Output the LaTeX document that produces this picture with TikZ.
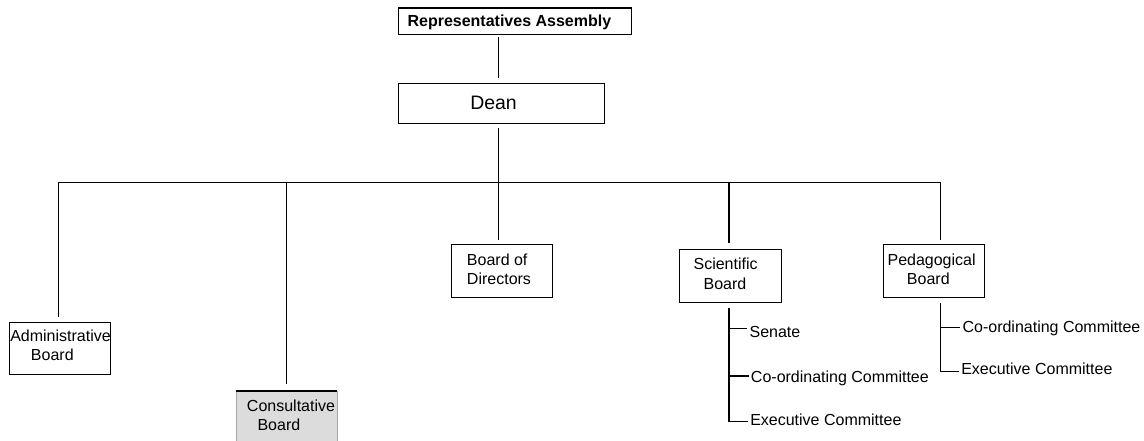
\documentclass[tikz,border=0pt]{standalone}
\usepackage{fontspec}
\setmainfont{Liberation Sans}
\definecolor{consgray}{RGB}{220,220,220}
\begin{document}
\begin{tikzpicture}[x=0.75pt,y=-0.75pt,
  box/.style={draw, line width=0.8pt, inner sep=0pt, anchor=north west},
  txt/.style={anchor=base west, inner sep=0pt, font=\fontsize{12}{14}\selectfont},
  conn/.style={line width=0.9pt}]
\useasboundingbox (0,0) rectangle (1144,441);
\clip (0,0) rectangle (1144,441);

% boxes
\node[box, minimum width=174.75pt, minimum height=19.9pt] (ra) at (398,7.5) {};
\node[box, minimum width=154.5pt, minimum height=30pt] (dean) at (398,83) {};
\node[box, minimum width=75.5pt, minimum height=39.2pt] (admin) at (9.3,321.7) {};
\node[anchor=north west, inner sep=0pt, fill=consgray, minimum width=75.5pt, minimum height=39.2pt] (cons) at (236,391) {};
\draw[line width=0.5pt, gray!70] (cons.south west) -- (cons.north west);
\draw[line width=0.5pt, gray!70] (cons.north east) -- (cons.south east);
\draw[line width=0.8pt] (cons.north west) -- (cons.north east);
\node[box, minimum width=76pt, minimum height=39.3pt] (bod) at (451,244.3) {};
\node[box, minimum width=76pt, minimum height=39.3pt] (sci) at (679.3,249.3) {};
\node[box, minimum width=75.75pt, minimum height=39.3pt] (ped) at (883.3,244.3) {};

% box texts
\node[txt, font=\bfseries\fontsize{12}{14}\selectfont] (ratxt) at (407.3,26.7) {Representatives Assembly};
\node[txt, font=\fontsize{14.6}{17}\selectfont] (deantxt) at (470,110) {Dean};
\node[txt] (admintxt1) at (10,341.7) {Administrative};
\node[txt] (admintxt2) at (30.7,360.7) {Board};
\node[txt] (constxt1) at (246.7,411.7) {Consultative};
\node[txt] (constxt2) at (257.3,430.7) {Board};
\node[txt] (bodtxt1) at (466.7,265.3) {Board of};
\node[txt] (bodtxt2) at (466.7,285) {Directors};
\node[txt] (scitxt1) at (693.3,270) {Scientific};
\node[txt] (scitxt2) at (703.3,289.3) {Board};
\node[txt] (pedtxt1) at (887.3,265.7) {Pedagogical};
\node[txt] (pedtxt2) at (906.7,285) {Board};

% committees
\node[txt] (senate) at (749.3,337.3) {Senate};
\node[txt] (scicoord) at (750.7,382.7) {Co-ordinating Committee};
\node[txt] (sciexec) at (750,425) {Executive Committee};
\node[txt] (pedcoord) at (962.3,332.7) {Co-ordinating Committee};
\node[txt] (pedexec) at (961,374.3) {Executive Committee};

% coordinates
\coordinate (mx) at (498.5,0);
\coordinate (bA) at (58.5,182.5);
\coordinate (bC) at (286.7,182.5);
\coordinate (bM) at (498.5,182.5);
\coordinate (bS) at (729,182.5);
\coordinate (bP) at (940.7,182.5);
\coordinate (s1) at (729,328.3);
\coordinate (s2) at (729,376);
\coordinate (s3) at (729,421.7);
\coordinate (p1) at (940.7,327.7);
\coordinate (p2) at (940.7,371.5);

% connectors
\draw[conn, shorten <=1.5pt, shorten >=3.75pt] (ra.south -| mx) -- (dean.north -| mx);
\draw[conn, shorten <=3.3pt] (dean.south -| mx) -- (bM);
\draw[conn] (bA) -- (bP);
\draw[conn, shorten >=3.75pt] (bA) -- (admin.north -| bA);
\draw[conn, shorten >=5.25pt] (bC) -- (cons.north -| bC);
\draw[conn, shorten >=3.2pt] (bM) -- (bod.north -| bM);
\draw[conn, shorten >=4.7pt] (bS) -- (sci.north -| bS);
\draw[conn, shorten >=3.2pt] (bP) -- (ped.north -| bP);

\draw[conn, shorten <=3.75pt, shorten >=1.5pt] (sci.south -| s3) -- (s3) -- (sciexec.west |- s3);
\draw[conn, shorten >=1.5pt] (s1) -- (senate.west |- s1);
\draw[conn, shorten >=1.5pt] (s2) -- (scicoord.west |- s2);
\draw[conn, shorten <=3.75pt, shorten >=1.5pt] (ped.south -| p2) -- (p2) -- (pedexec.west |- p2);
\draw[conn, shorten >=1.5pt] (p1) -- (pedcoord.west |- p1);
\end{tikzpicture}
\end{document}
